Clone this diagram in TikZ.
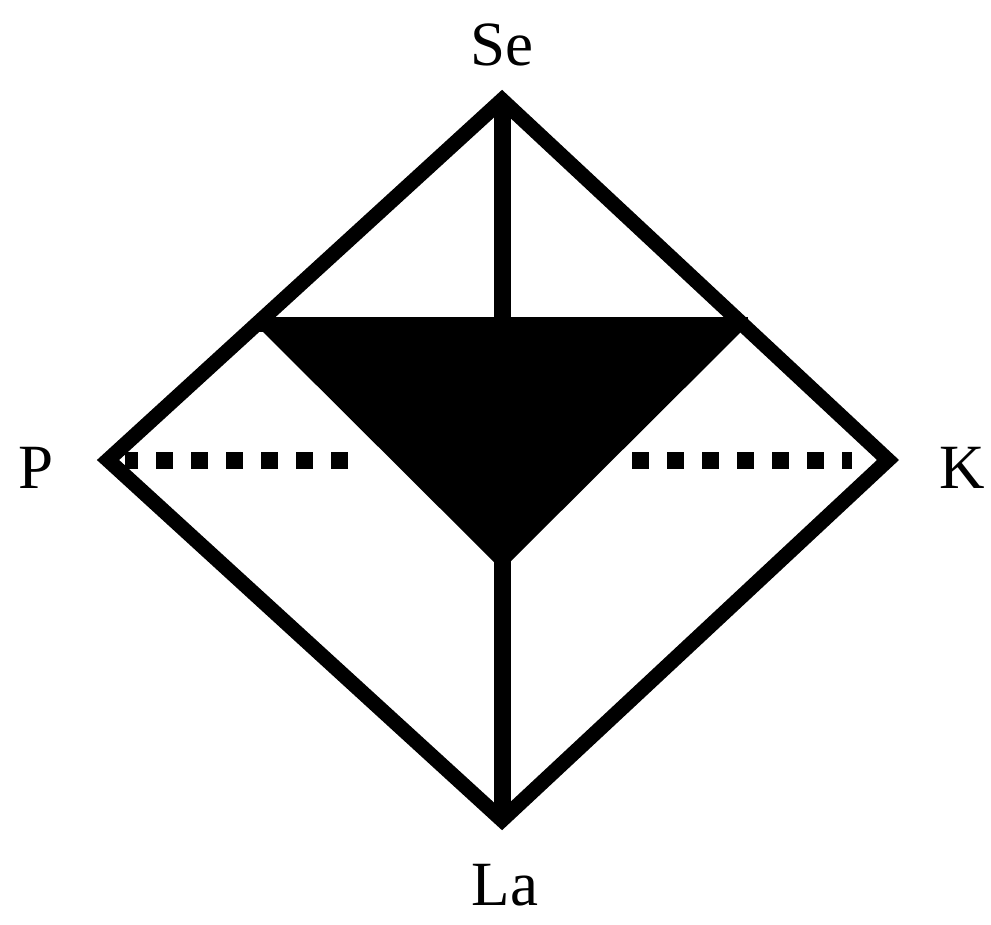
\documentclass[tikz,border=0pt]{standalone}
\usepackage{fontspec}
\setmainfont{Liberation Serif}
\begin{document}
\begin{tikzpicture}[x=1pt,y=-1pt,
  edge/.style={line width=15pt,line join=miter,line cap=butt},
  vline/.style={line width=17pt,line cap=butt},
  dotline/.style={line width=17pt,dash pattern=on 17pt off 18pt},
  lbl/.style={font=\fontsize{63}{63}\selectfont,inner sep=0pt}]
\useasboundingbox (0,0) rectangle (991,925);
\coordinate (Se) at (502,100);
\coordinate (P) at (108,460);
\coordinate (K) at (888,460);
\coordinate (La) at (502,820);
\coordinate (T1) at (256,325);
\coordinate (T2) at (748,325);
\coordinate (T3) at (502,570);
\coordinate (D1) at (348,460);
\coordinate (D2) at (632,460);
% dotted line
\draw[dotline] (D1) -- ([xshift=17pt]P);
\draw[dotline] (D2) -- ([xshift=-36pt]K);
% filled triangle
\fill (T1) -- (T2) -- (T3) -- cycle;
% vertical line
\draw[vline] (Se) -- (La);
% diamond
\draw[edge] (Se) -- (K) -- (La) -- (P) -- cycle;
\draw[edge] (T1) -- (T2);
% labels
\node[lbl] (lSe) at (502,45) {Se};
\node[lbl] (lP) at (36,468) {P};
\node[lbl] (lK) at (962,468) {K};
\node[lbl] (lLa) at (505,885) {La};
\end{tikzpicture}
\end{document}
